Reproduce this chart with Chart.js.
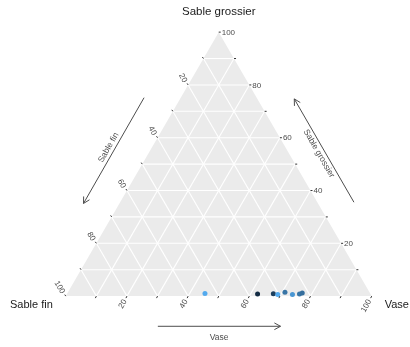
<!DOCTYPE html>
<html>
<head>
<meta charset="utf-8">
<script src="https://cdn.jsdelivr.net/npm/chart.js@4/dist/chart.umd.min.js"></script>
<style>
  body { margin: 0; background: #fff; }
  canvas { display: block; }
</style>
</head>
<body>
<canvas id="tern" width="410" height="347"></canvas>
<script>
// axes (ternary corners)
const axisNames = ["Sable fin", "Sable grossier", "Vase"];
const tickValues = [20, 40, 60, 80, 100];
const minorTicks = [10, 30, 50, 70, 90];

// samples (percent), Sable fin = 100 - vase - grossier
const vase = [45.0, 62.3, 67.4, 69.0, 70.9, 73.8, 76.0, 76.7];
const grossier = [1.0, 0.8, 0.9, 0.6, 1.5, 0.6, 0.8, 1.2];
const colourValue = [0.95, 0.0, 0.15, 0.95, 0.55, 0.8, 0.55, 0.5];

const H = Math.sqrt(3) / 2;
const toXY = (v, g) => ({ x: v + g / 2, y: g * H });

function gradient(t) {
  const a = [0x13, 0x2B, 0x43], b = [0x56, 0xB1, 0xF7];
  const c = a.map((ai, i) => Math.round(ai + (b[i] - ai) * t));
  return `rgb(${c[0]},${c[1]},${c[2]})`;
}

const points = vase.map((v, i) => toXY(v, grossier[i]));

// white grid lines every 10%
const gridSets = [];
for (let k = 10; k <= 90; k += 10) {
  const lines = [
    [toXY(0, k), toXY(100 - k, k)],
    [toXY(k, 0), toXY(k, 100 - k)],
    [toXY(100 - k, 0), toXY(0, 100 - k)]
  ];
  lines.forEach(l => gridSets.push({
    type: "scatter",
    data: l,
    showLine: true,
    borderColor: "#ffffff",
    borderWidth: 1.1,
    pointRadius: 0,
    order: 2
  }));
}

const ternaryPlugin = {
  id: "ternary",
  beforeDatasetsDraw(chart) {
    const { ctx, scales } = chart;
    const px = p => [scales.x.getPixelForValue(p.x), scales.y.getPixelForValue(p.y)];
    const a = px(toXY(0, 0)), b = px(toXY(100, 0)), c = px(toXY(0, 100));
    ctx.save();
    ctx.fillStyle = "#EBEBEB";
    ctx.beginPath();
    ctx.moveTo(a[0], a[1]);
    ctx.lineTo(b[0], b[1]);
    ctx.lineTo(c[0], c[1]);
    ctx.closePath();
    ctx.fill();
    ctx.restore();
  },
  afterDatasetsDraw(chart) {
    const { ctx, scales } = chart;
    const px = p => [scales.x.getPixelForValue(p.x), scales.y.getPixelForValue(p.y)];
    ctx.save();
    ctx.strokeStyle = "#333";
    ctx.lineWidth = 1;

    const allTicks = tickValues.concat(minorTicks);
    // ticks
    allTicks.forEach(k => {
      // bottom (Vase)
      let p = px(toXY(k, 0));
      ctx.beginPath(); ctx.moveTo(p[0], p[1]); ctx.lineTo(p[0] - 1, p[1] + 2); ctx.stroke();
      // right (Sable grossier)
      p = px(toXY(100 - k, k));
      ctx.beginPath(); ctx.moveTo(p[0], p[1]); ctx.lineTo(p[0] + 2, p[1]); ctx.stroke();
      // left (Sable fin)
      p = px(toXY(0, 100 - k));
      ctx.beginPath(); ctx.moveTo(p[0], p[1]); ctx.lineTo(p[0] - 1, p[1] - 1.5); ctx.stroke();
    });

    // tick labels
    ctx.fillStyle = "#4D4D4D";
    ctx.font = "8px 'Liberation Sans', Arial, sans-serif";
    tickValues.forEach(k => {
      let p = px(toXY(k, 0));
      ctx.save();
      ctx.translate(p[0] - 2, p[1] + 4);
      ctx.rotate(-Math.PI / 3);
      ctx.textAlign = "right"; ctx.textBaseline = "middle";
      ctx.fillText(String(k), 0, 0);
      ctx.restore();

      p = px(toXY(100 - k, k));
      ctx.textAlign = "left"; ctx.textBaseline = "middle";
      ctx.fillText(String(k), p[0] + 3, p[1] + 0.5);

      p = px(toXY(0, 100 - k));
      ctx.save();
      ctx.translate(p[0] - 3, p[1] - 3);
      ctx.rotate(Math.PI / 3);
      ctx.textAlign = "right"; ctx.textBaseline = "middle";
      ctx.fillText(String(k), 0, 0);
      ctx.restore();
    });

    // corner titles
    ctx.fillStyle = "#1A1A1A";
    ctx.textBaseline = "middle";
    const top = px(toXY(0, 100));
    ctx.font = "11.5px 'Liberation Sans', Arial, sans-serif";
    ctx.textAlign = "center";
    ctx.fillText(axisNames[1], top[0], top[1] - 20);
    ctx.font = "11px 'Liberation Sans', Arial, sans-serif";
    const left = px(toXY(0, 0));
    ctx.textAlign = "right";
    ctx.fillText(axisNames[0], left[0] - 13, left[1] + 9);
    const right = px(toXY(100, 0));
    ctx.textAlign = "left";
    ctx.fillText(axisNames[2], right[0] + 13, right[1] + 9);

    // direction arrows
    const arrow = (from, to, label, side) => {
      const f = px(from), t = px(to);
      ctx.strokeStyle = "#4D4D4D";
      ctx.beginPath(); ctx.moveTo(f[0], f[1]); ctx.lineTo(t[0], t[1]); ctx.stroke();
      const ang = Math.atan2(t[1] - f[1], t[0] - f[0]);
      [-1, 1].forEach(s => {
        ctx.beginPath();
        ctx.moveTo(t[0], t[1]);
        ctx.lineTo(t[0] - 7 * Math.cos(ang + s * 0.5), t[1] - 7 * Math.sin(ang + s * 0.5));
        ctx.stroke();
      });
      let rot = ang;
      if (rot > Math.PI / 2) rot -= Math.PI;
      if (rot < -Math.PI / 2) rot += Math.PI;
      ctx.save();
      ctx.translate((f[0] + t[0]) / 2, (f[1] + t[1]) / 2);
      ctx.rotate(rot);
      ctx.fillStyle = "#4D4D4D";
      ctx.font = "8.5px 'Liberation Sans', Arial, sans-serif";
      ctx.textAlign = "center"; ctx.textBaseline = "middle";
      ctx.fillText(label, 0, side);
      ctx.restore();
    };
    arrow({ x: 25.6, y: 65.1 }, { x: 5.8, y: 30.4 }, axisNames[0], -6);
    arrow({ x: 94.2, y: 30.8 }, { x: 74.7, y: 64.7 }, axisNames[1], 6);
    arrow({ x: 30.1, y: -9.9 }, { x: 70.2, y: -9.9 }, axisNames[2], 11);
    ctx.restore();
  }
};

new Chart(document.getElementById("tern"), {
  type: "scatter",
  data: {
    datasets: [
      {
        data: points,
        pointRadius: 2.5,
        pointBorderWidth: 0,
        pointBackgroundColor: colourValue.map(gradient),
        order: 0
      },
      ...gridSets
    ]
  },
  options: {
    responsive: false,
    animation: false,
    events: [],
    layout: { padding: 0 },
    plugins: { legend: { display: false }, tooltip: { enabled: false } },
    scales: {
      x: { type: "linear", display: false, min: -20.19, max: 111.22 },
      y: { type: "linear", display: false, min: -15.38, max: 95.83 }
    }
  },
  plugins: [ternaryPlugin]
});
</script>
</body>
</html>
